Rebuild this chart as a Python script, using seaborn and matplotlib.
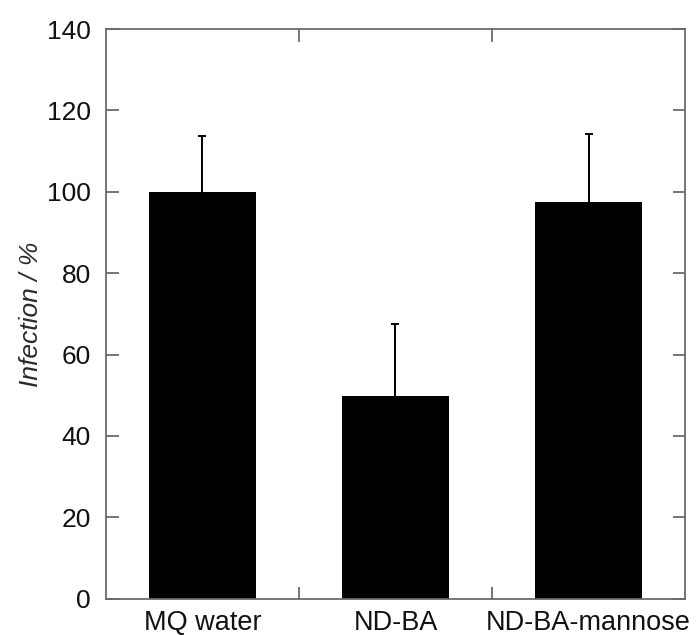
import numpy as np
import pandas as pd
import matplotlib
matplotlib.use("Agg")
import matplotlib.pyplot as plt
import seaborn as sns

categories = ["MQ water", "ND-BA", "ND-BA-mannose"]
infection = [100.0, 49.7, 97.4]
errors = [13.8, 17.9, 16.9]
yticks = [0, 20, 40, 60, 80, 100, 120, 140]

sns.set_theme(style="white")
plt.rcParams["font.family"] = ["Liberation Sans", "DejaVu Sans"]

fig = plt.figure(figsize=(6.99, 6.35), dpi=100)
ax = fig.add_axes([0.1516, 0.0572, 0.98 - 0.1516, 0.9543 - 0.0572])

df = pd.DataFrame({"cat": categories, "val": infection})
sns.barplot(data=df, x="cat", y="val", color="black", saturation=1,
            width=0.555, errorbar=None, ax=ax, edgecolor="black", linewidth=0)

xpos = np.arange(len(categories))
_, caps, _ = ax.errorbar(xpos, infection, yerr=[np.zeros(len(errors)), errors],
                         fmt="none", ecolor="black", elinewidth=1.4, capsize=3,
                         capthick=1.4, zorder=3)
# hide the lower caps (zero-length lower error)
for cl in caps:
    yd = np.asarray(cl.get_ydata(), dtype=float)
    if np.allclose(yd, infection):
        cl.set_visible(False)

ax.set_xlim(-0.5, 2.5)
ax.set_ylim(0, 140)
ax.set_yticks(yticks)
ax.set_xticks(xpos)
ax.set_xticklabels(categories)
ax.set_xticks([0.5, 1.5], minor=True)
ax.set_xlabel("")
ax.set_ylabel("Infection / %", fontsize=19, style="italic", labelpad=3,
              color="#2a2a2a")

spine_col = "#6b6b6b"
for s in ax.spines.values():
    s.set_visible(True)
    s.set_color(spine_col)
    s.set_linewidth(1.3)

ax.tick_params(axis="y", which="major", direction="in", length=9, width=1.3,
               color=spine_col, left=True, right=True, labelsize=19, pad=11,
               labelcolor="#111111")
ax.tick_params(axis="x", which="major", length=0, labelsize=19.5, pad=8,
               labelcolor="#111111")
ax.tick_params(axis="x", which="minor", direction="in", length=9, width=1.3,
               color=spine_col, bottom=True, top=True)

fig.savefig("out.png", dpi=100)
